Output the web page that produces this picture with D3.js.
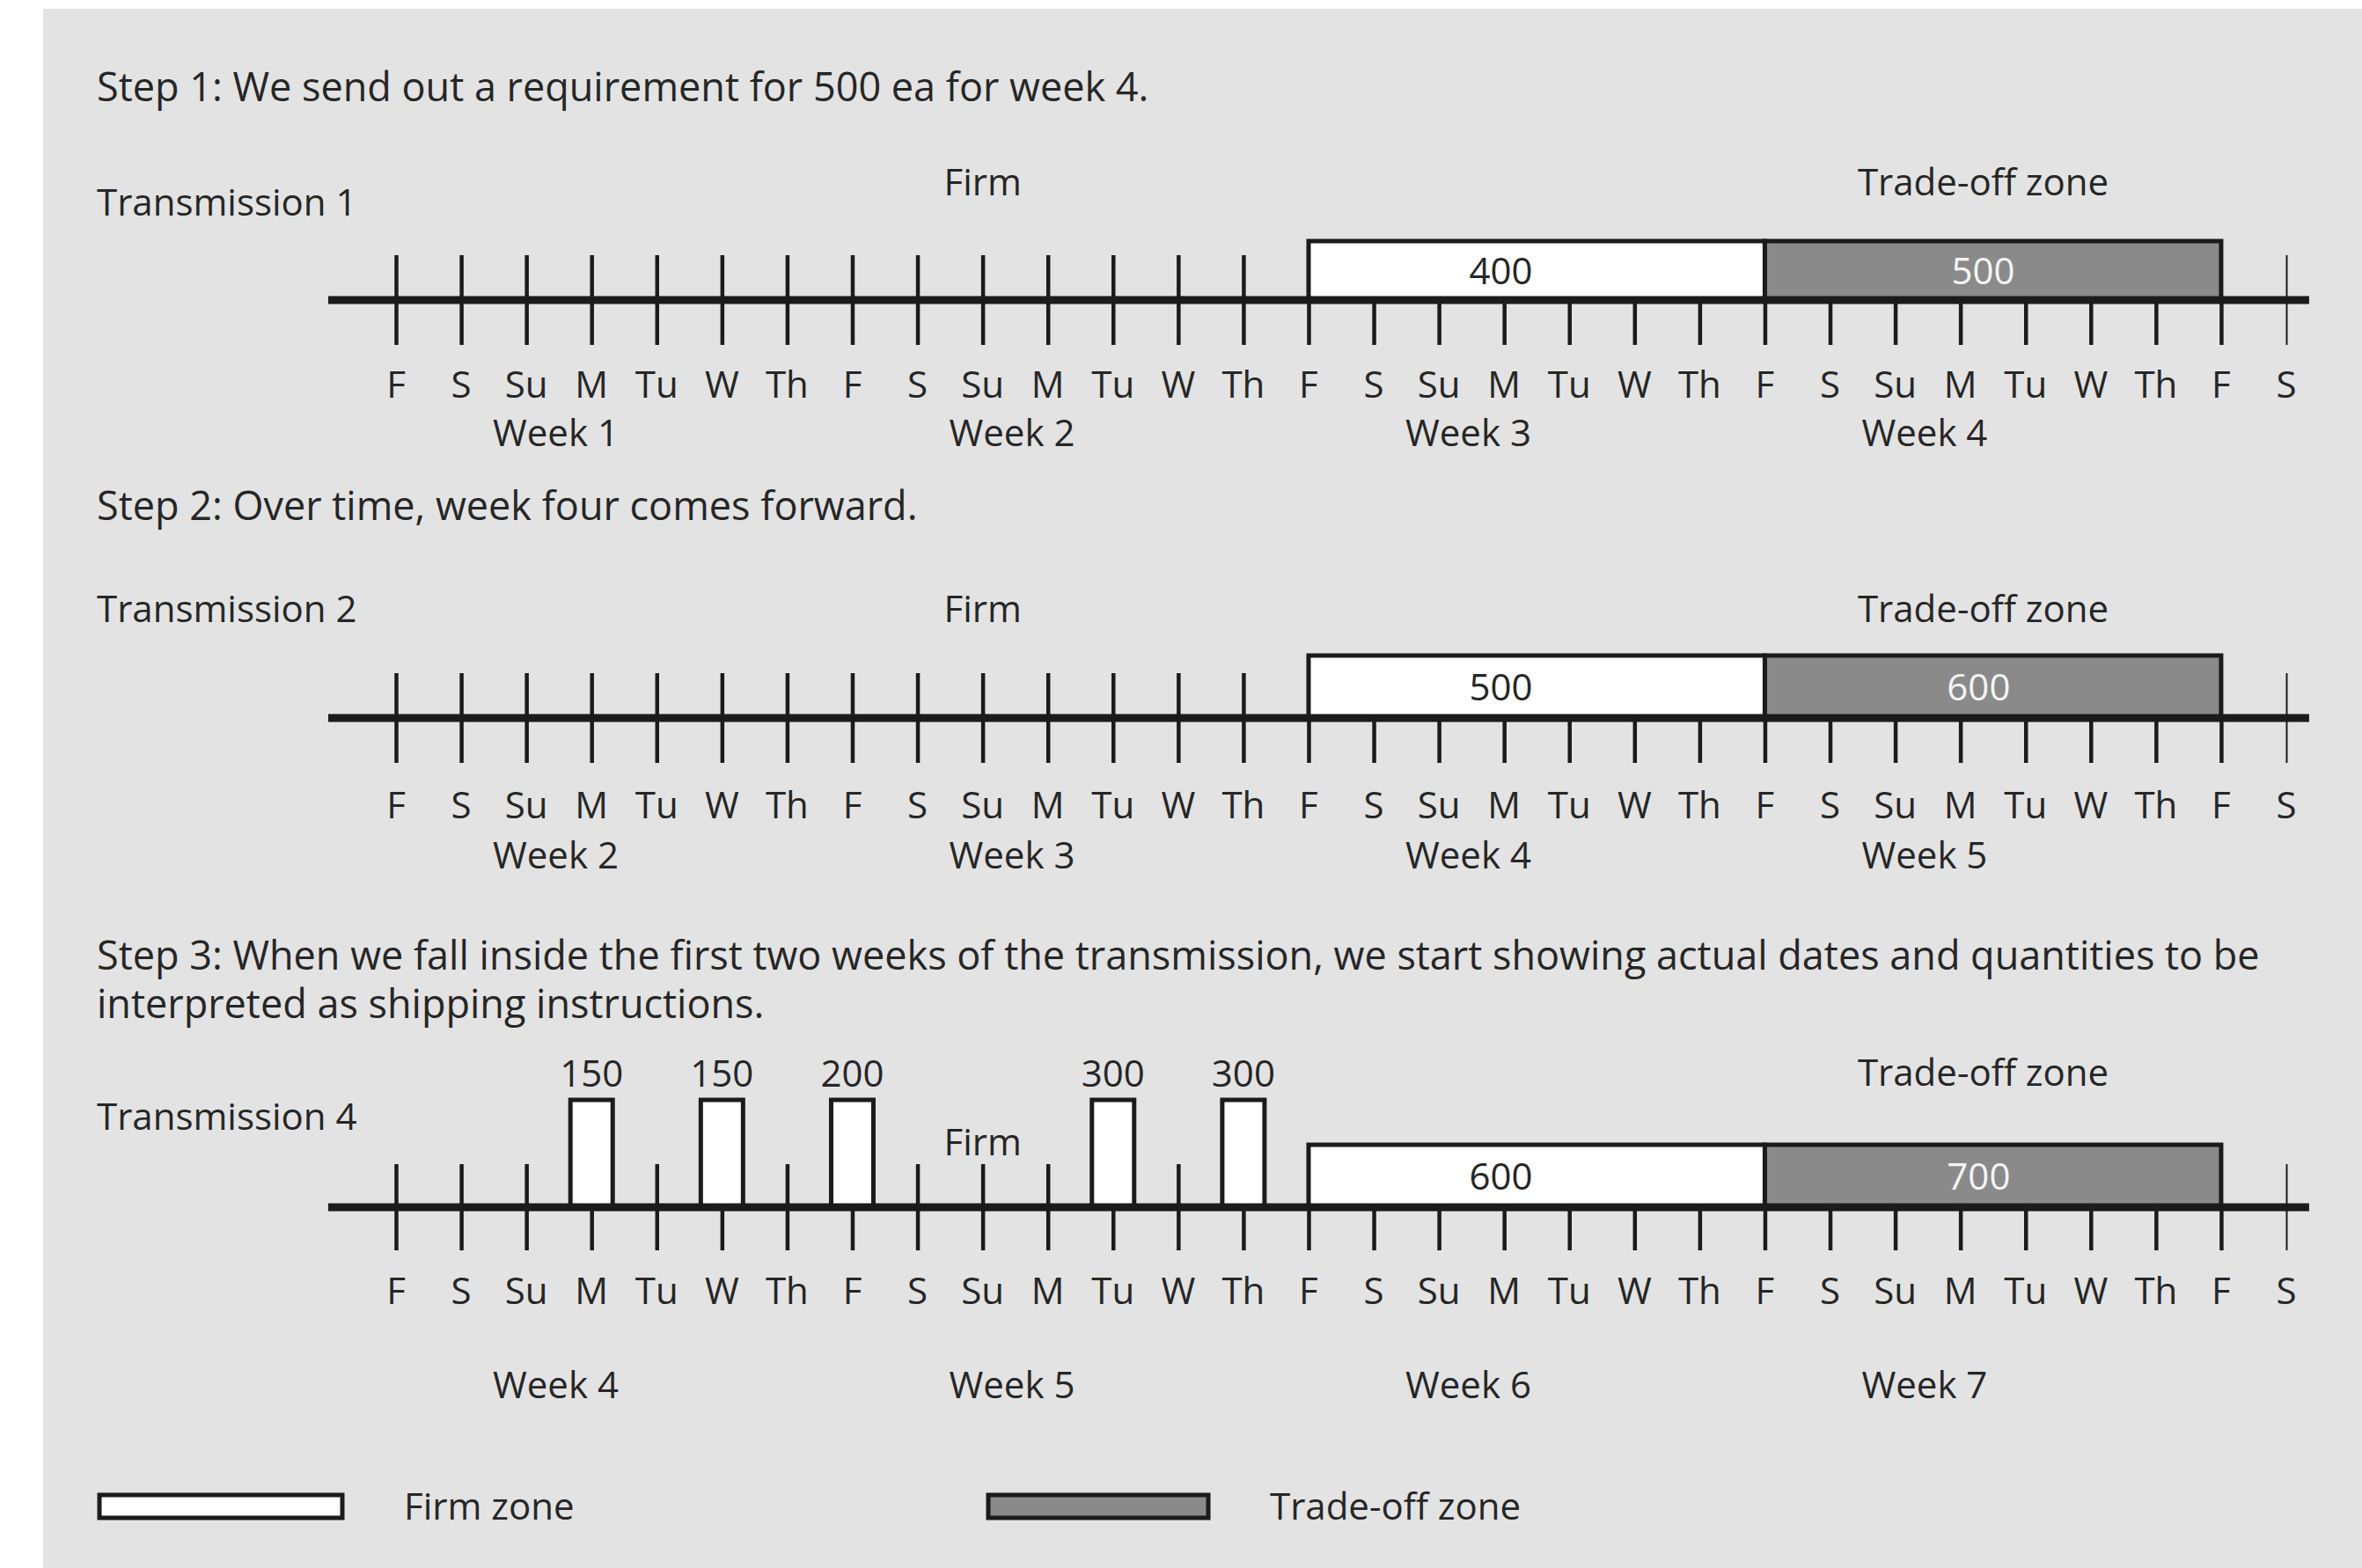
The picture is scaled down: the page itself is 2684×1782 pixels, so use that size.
<!DOCTYPE html>
<html lang="en">
<head>
  <meta charset="UTF-8">
  <style>
    body { margin: 0; background: #fff; }
    .chart text { font-family: "Open Sans", sans-serif; fill: #262626; font-size: 42px; }
    .chart text.title { font-size: 45px; }
    .chart .tick text { display: none; }
  </style>
</head>
<body>
  <svg class="chart"></svg>
  <script src="https://cdnjs.cloudflare.com/ajax/libs/d3/7.8.5/d3.min.js"></script>
  <script>
    // days along each timeline
    const days = ['F', 'S', 'Su', 'M', 'Tu', 'W', 'Th', 'F', 'S', 'Su', 'M', 'Tu', 'W', 'Th',
                  'F', 'S', 'Su', 'M', 'Tu', 'W', 'Th', 'F', 'S', 'Su', 'M', 'Tu', 'W', 'Th', 'F', 'S']
    const stepTitles = [
      ['Step 1: We send out a requirement for 500 ea for week 4.'],
      ['Step 2: Over time, week four comes forward.'],
      ['Step 3: When we fall inside the first two weeks of the transmission, we start showing actual dates and quantities to be',
       'interpreted as shipping instructions.']
    ]
    const transmissions = ['Transmission 1', 'Transmission 2', 'Transmission 4']
    const weekLabels = [
      ['Week 1', 'Week 2', 'Week 3', 'Week 4'],
      ['Week 2', 'Week 3', 'Week 4', 'Week 5'],
      ['Week 4', 'Week 5', 'Week 6', 'Week 7']
    ]
    const firmQty = [400, 500, 600]
    const tradeQty = [500, 600, 700]
    const firmZone = [14, 21]   // day index range
    const tradeZone = [21, 28]
    const shipDays = [3, 5, 7, 11, 13]   // only in step 3
    const shipQty = [150, 150, 200, 300, 300]
    const legendItems = ['Firm zone', 'Trade-off zone']

    const W = 2684, H = 1782
    const ink = '#1b1b1b'
    const tradeFill = '#8a8a8a'

    // vertical layout of each step
    const rows = [
      { title: 115, trans: 245, zoneY: 222, firmY: 222, axis: 341, tick: 51, box: 67, dayY: 452, weekY: 507 },
      { title: 591, trans: 707, zoneY: 707, firmY: 707, axis: 816, tick: 51, box: 71, dayY: 930, weekY: 987 },
      { title: 1102, trans: 1284, zoneY: 1234, firmY: 1313, axis: 1372, tick: 49, box: 71, dayY: 1482, weekY: 1589 }
    ]

    const x = d3.scaleLinear().domain([0, days.length - 1]).range([450, 2598])

    const svg = d3.select('.chart')
      .attr('width', W)
      .attr('height', H)

    svg.append('rect')
      .attr('x', 49).attr('y', 10)
      .attr('width', W - 49).attr('height', H - 10)
      .attr('fill', '#e3e3e3')

    rows.forEach((r, i) => {
      const g = svg.append('g')

      // titles
      stepTitles[i].forEach((t, j) => {
        g.append('text').attr('class', 'title')
          .attr('x', 110).attr('y', r.title + j * 55).text(t)
      })
      g.append('text').attr('x', 110).attr('y', r.trans).text(transmissions[i])
      g.append('text').attr('x', x(9)).attr('y', r.firmY)
        .attr('text-anchor', 'middle').text('Firm')
      g.append('text').attr('x', x(24.35)).attr('y', r.zoneY)
        .attr('text-anchor', 'middle').text('Trade-off zone')

      // zone boxes
      g.append('rect')
        .attr('x', x(firmZone[0])).attr('y', r.axis - r.box)
        .attr('width', x(firmZone[1]) - x(firmZone[0])).attr('height', r.box)
        .attr('fill', '#fff').attr('stroke', ink).attr('stroke-width', 5)
      g.append('rect')
        .attr('x', x(tradeZone[0])).attr('y', r.axis - r.box)
        .attr('width', x(tradeZone[1]) - x(tradeZone[0])).attr('height', r.box)
        .attr('fill', tradeFill).attr('stroke', ink).attr('stroke-width', 5)
      g.append('text').attr('x', x(16.95)).attr('y', r.axis - r.box / 2 + 15)
        .attr('text-anchor', 'middle').text(firmQty[i])
      g.append('text').attr('x', x(i === 0 ? 24.35 : 24.28)).attr('y', r.axis - r.box / 2 + 15)
        .attr('text-anchor', 'middle').style('fill', '#f4f4f4').text(tradeQty[i])

      // shipping bars (step 3 only)
      const ships = i === 2 ? shipDays : []
      if (i === 2) {
        g.selectAll('.bar').data(shipDays).enter().append('rect')
          .attr('class', 'bar')
          .attr('x', d => x(d) - 24).attr('y', r.axis - 122)
          .attr('width', 48).attr('height', 122)
          .attr('fill', '#fff').attr('stroke', ink).attr('stroke-width', 5)
        g.selectAll('.qty').data(shipDays).enter().append('text')
          .attr('class', 'qty')
          .attr('x', d => x(d)).attr('y', r.axis - 137)
          .attr('text-anchor', 'middle')
          .text((d, k) => shipQty[k])
      }

      // timeline
      g.append('line')
        .attr('x1', x(-1.04)).attr('x2', x(29.35))
        .attr('y1', r.axis).attr('y2', r.axis)
        .attr('stroke', ink).attr('stroke-width', 9)

      const all = d3.range(days.length)
      const upper = all.filter(d => (d < firmZone[0] && !ships.includes(d)) || d === days.length - 1)

      const below = g.append('g').attr('transform', `translate(0,${r.axis})`)
        .call(d3.axisBottom(x).tickValues(all).tickSize(r.tick).tickFormat(''))
      const above = g.append('g').attr('transform', `translate(0,${r.axis})`)
        .call(d3.axisTop(x).tickValues(upper).tickSize(r.tick).tickFormat(''))
      ;[below, above].forEach(a => {
        a.select('.domain').remove()
        a.selectAll('.tick line')
          .attr('stroke', ink)
          .attr('stroke-width', d => d === days.length - 1 ? 2 : 4.5)
      })

      // day and week labels
      g.selectAll('.day').data(days).enter().append('text')
        .attr('class', 'day')
        .attr('x', (d, k) => x(k)).attr('y', r.dayY)
        .attr('text-anchor', 'middle').text(d => d)
      g.selectAll('.week').data(weekLabels[i]).enter().append('text')
        .attr('class', 'week')
        .attr('x', (d, k) => x(2.45 + k * 7)).attr('y', r.weekY)
        .attr('text-anchor', 'middle').text(d => d)
    })

    // legend
    const legend = svg.append('g')
    const legendX = [113, 1123], legendW = [276, 250], legendText = [459, 1443]
    legendItems.forEach((t, i) => {
      legend.append('rect')
        .attr('x', legendX[i]).attr('y', 1699)
        .attr('width', legendW[i]).attr('height', 26)
        .attr('fill', i === 0 ? '#fff' : tradeFill)
        .attr('stroke', ink).attr('stroke-width', 5)
      legend.append('text').attr('x', legendText[i]).attr('y', 1727).text(t)
    })
  </script>
</body>
</html>
